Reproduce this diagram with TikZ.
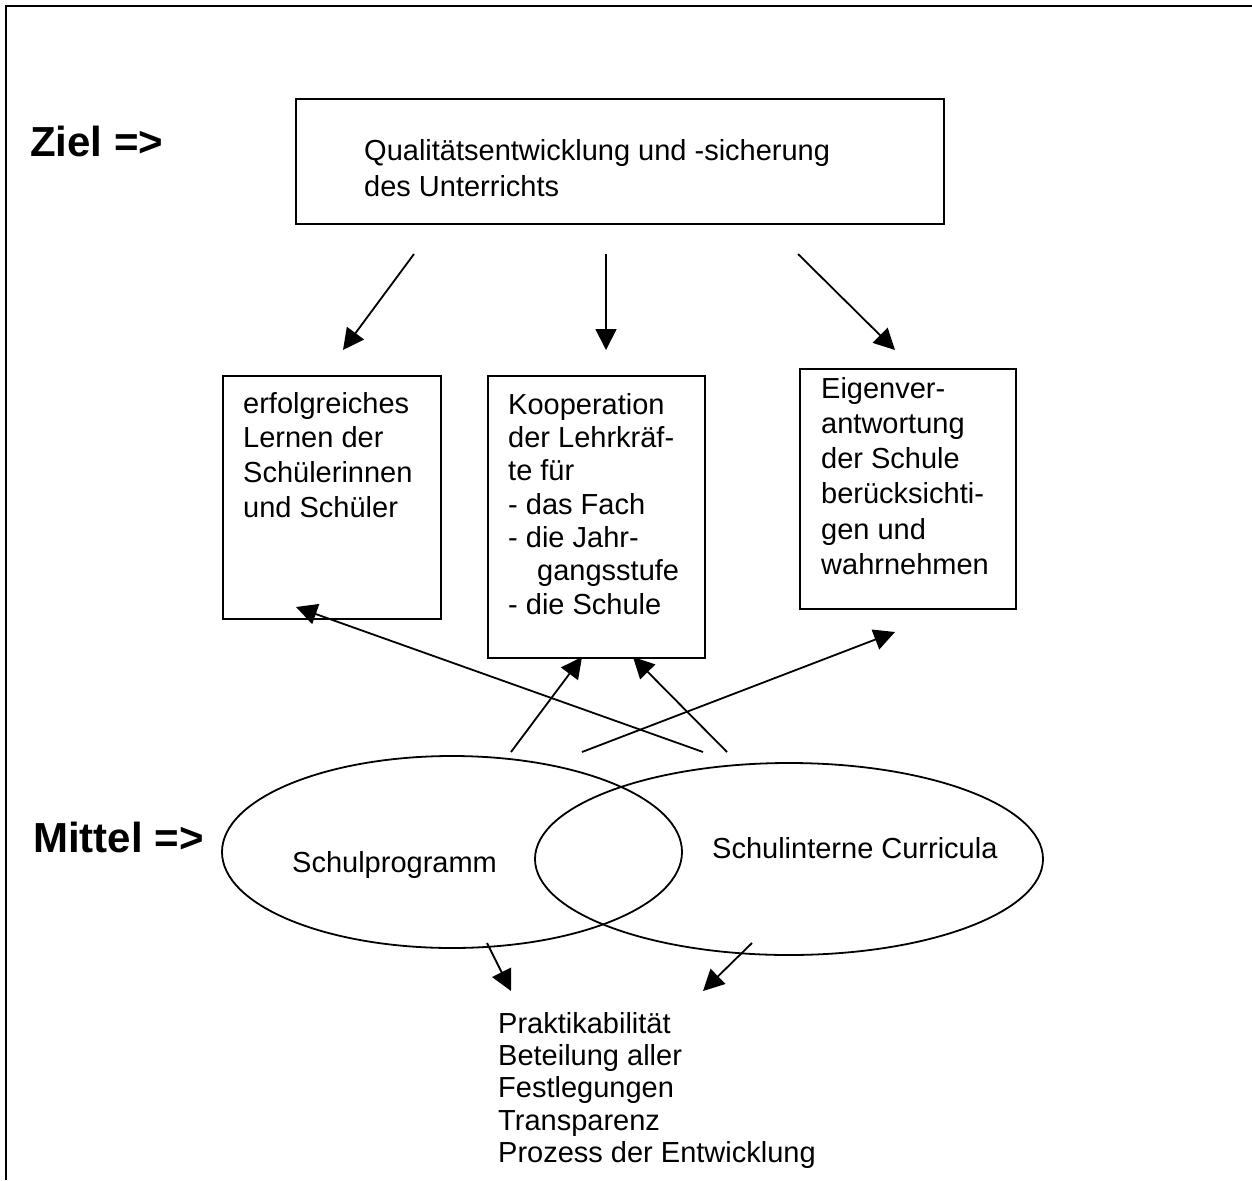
\documentclass[tikz,border=0pt]{standalone}
\usepackage{fontspec}
\setmainfont{Liberation Sans}
\usetikzlibrary{
  arrows.meta,      % Triangle-Pfeilspitzen
  shapes.geometric  % Ellipsen
}

\tikzset{
  kasten/.style={draw, line width=1.8pt, inner sep=0pt, anchor=north west},
  kreis/.style={draw, ellipse, line width=1.8pt, inner sep=0pt},
  txt/.style={align=left, inner sep=0pt, anchor=north west},
  marke/.style={inner sep=0pt, anchor=base west, font=\fontsize{42}{50}\selectfont\bfseries},
  pfeil/.style={-{Triangle[length=21pt, width=21pt]}, line width=1.8pt}
}

\begin{document}
\begin{tikzpicture}[x=1pt, y=-1pt]
  \useasboundingbox (0,0) rectangle (1252,1180);
  \def\fs{\fontsize{29}{34.5}\selectfont}

  % Rahmen (oben und links)
  \draw[line width=2.6pt] (1252,6) -- (6,6) -- (6,1180);

  % Ziel
  \node[marke] (zieltxt) at (30,157) {Ziel =>};
  \node[kasten, minimum width=648pt, minimum height=125pt] (ziel) at (295,98) {};
  \node[txt, font=\fontsize{29}{36}\selectfont] (zielinh) at (364,139)
    {Qualitätsentwicklung und -sicherung\\des Unterrichts};

  % die drei Kästen
  \node[kasten, minimum width=218pt, minimum height=243pt] (lernen) at (222,375) {};
  \node[txt, font=\fontsize{29}{34.7}\selectfont] (lernentxt) at (243,392)
    {erfolgreiches\\Lernen der\\Schülerinnen\\und Schüler};

  \node[kasten, minimum width=217pt, minimum height=282pt] (koop) at (487,375) {};
  \node[txt, font=\fontsize{29}{33.3}\selectfont] (kooptxt) at (508,393)
    {Kooperation\\der Lehrkräf-\\te für\\- das Fach\\- die Jahr-\\\hspace*{29pt}gangsstufe\\- die Schule};

  \node[kasten, minimum width=216pt, minimum height=240pt] (eigen) at (799,368) {};
  \node[txt, font=\fontsize{29}{35.2}\selectfont] (eigentxt) at (821,377)
    {Eigenver-\\antwortung\\der Schule\\berücksichti-\\gen und\\wahrnehmen};

  % Mittel
  \node[marke] (mitteltxt) at (33,852) {Mittel =>};
  \node[kreis, minimum width=460pt, minimum height=192pt] (programm) at (452,852) {};
  \node[kreis, minimum width=508pt, minimum height=192pt] (curricula) at (789,859) {};
  \node[inner sep=0pt, anchor=base west, font=\fs] (programmtxt) at (292,872) {Schulprogramm};
  \node[inner sep=0pt, anchor=base west, font=\fs] (curriculatxt) at (712,858) {Schulinterne Curricula};

  % Kriterien
  \node[txt, font=\fontsize{29}{32.3}\selectfont] (kriterien) at (498,1012)
    {Praktikabilität\\Beteilung aller\\Festlegungen\\Transparenz\\Prozess der Entwicklung};

  % freie Pfeilenden
  \coordinate (a1) at (414,254);  \coordinate (a1e) at (343,350);
  \coordinate (a2) at (606,254);  \coordinate (a2e) at (606,350);
  \coordinate (a3) at (798,254);  \coordinate (a3e) at (895,350);
  \coordinate (b1) at (703,752);  \coordinate (b1e) at (296,607);
  \coordinate (b2) at (511,752);  \coordinate (b2e) at (582,657);
  \coordinate (b3) at (727,752);  \coordinate (b3e) at (633,657);
  \coordinate (b4) at (582,752);  \coordinate (b4e) at (895,632);
  \coordinate (c1) at (487,943);  \coordinate (c1e) at (511,991);
  \coordinate (c2) at (752,943);  \coordinate (c2e) at (703,991);

  % Pfeile
  \foreach \p in {a1,a2,a3,b1,b2,b3,b4,c1,c2}
    \draw[pfeil] (\p) -- (\p e);
\end{tikzpicture}
\end{document}
